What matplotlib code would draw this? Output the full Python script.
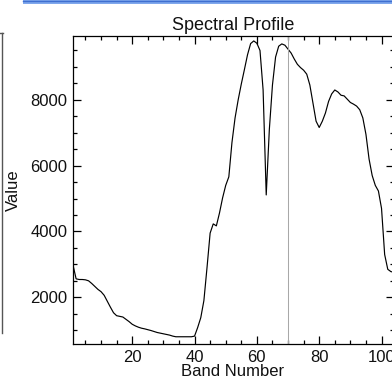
"""
plot.py — spectral profile (band number vs value) in the old ENVI/IDL plot look.
"""

import matplotlib
matplotlib.use("Agg")
import matplotlib.pyplot as plt
from matplotlib.lines import Line2D
from matplotlib.patches import Rectangle

# ── data ──────────────────────────────────────────────────────────────────────
bands = list(range(1, 105))
values = [
    2980, 2560, 2540, 2540, 2530, 2500, 2420, 2330, 2240, 2170,   # 1-10
    2060, 1880, 1700, 1530, 1440, 1420, 1400, 1330, 1260, 1180,   # 11-20
    1130, 1090, 1060, 1040, 1015, 990, 960, 930, 910, 890,        # 21-30
    870, 850, 820, 800, 800, 800, 800, 800, 800, 820,             # 31-40
    1080, 1380, 1900, 2900, 3950, 4230, 4170, 4560, 5020, 5400,   # 41-50
    5660, 6700, 7450, 8000, 8480, 8920, 9370, 9710, 9790, 9720,   # 51-60
    9500, 8300, 5110, 7100, 8450, 9300, 9630, 9700, 9660, 9540,   # 61-70
    9420, 9240, 9080, 8980, 8900, 8780, 8450, 7900, 7350, 7160,   # 71-80
    7350, 7600, 7950, 8180, 8300, 8240, 8140, 8120, 8020, 7920,   # 81-90
    7870, 7810, 7700, 7450, 6950, 6200, 5700, 5400, 5230, 4700,   # 91-100
    3300, 2850, 2780, 2760,                                       # 101-104
]
x_ticks = [20, 40, 60, 80, 100]
y_ticks = [2000, 4000, 6000, 8000]
cursor_band = 70

W, H = 392, 382
plt.rcParams["font.family"] = ["Liberation Sans", "DejaVu Sans"]

fig = plt.figure(figsize=(W / 100, H / 100), dpi=100)
fig.patch.set_facecolor("white")

# plot box in pixels: left 73, right 394 (just past the crop), top 36, bottom 344
ax = fig.add_axes([73 / W, (H - 344) / H, (394 - 73) / W, (344 - 36) / H])
ax.plot(bands, values, color="black", lw=0.85)
ax.axvline(cursor_band, color="#a8a8a8", lw=0.75)

ax.set_xlim(1, 104)
ax.set_ylim(580, 9940)
ax.set_xticks(x_ticks)
ax.set_yticks(y_ticks)
ax.set_xticks(range(5, 105, 5), minor=True)
ax.set_yticks(range(1000, 10000, 500), minor=True)
ax.tick_params(which="both", direction="in", top=True, right=True,
               width=0.9, color="black", labelsize=12, labelcolor="#111111",
               pad=4)
ax.tick_params(which="major", length=5.8)
ax.tick_params(which="minor", length=2.9)
for s in ax.spines.values():
    s.set_linewidth(0.9)

ax.set_title("Spectral Profile", fontsize=13, pad=4, color="#111111")
fig.text(233 / W, (H - 371) / H, "Band Number", fontsize=12,
         ha="center", va="center", color="#111111")
fig.text(13 / W, (H - 190) / H, "Value", fontsize=12, rotation=90,
         ha="center", va="center", color="#111111")

# ── bits of the surrounding window ────────────────────────────────────────────
fig.patches.append(Rectangle((23 / W, (H - 4) / H), (W - 23) / W, 4 / H,
                             transform=fig.transFigure, color="#7fa7ec",
                             lw=0))
fig.lines.append(Line2D([23 / W, 1], [(H - 0.5) / H] * 2,
                        transform=fig.transFigure, color="#3f6fd0", lw=1))
fig.lines.append(Line2D([1.5 / W] * 2, [(H - 333) / H, (H - 33) / H],
                        transform=fig.transFigure, color="#555555", lw=1))
fig.lines.append(Line2D([0, 3 / W], [(H - 33) / H] * 2,
                        transform=fig.transFigure, color="#555555", lw=1))

fig.savefig("out.png", dpi=100)
plt.close(fig)
